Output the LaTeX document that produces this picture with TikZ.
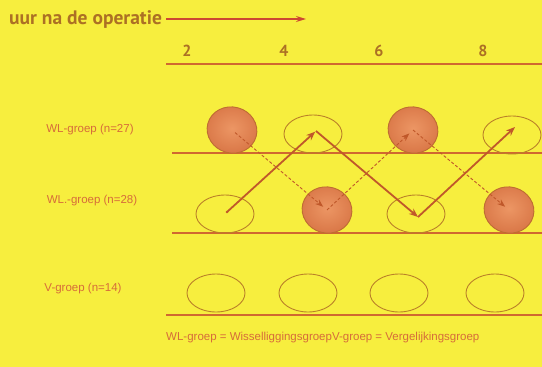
\documentclass[tikz,border=0pt]{standalone}
\usepackage{fontspec}
\setmainfont{Liberation Sans}
\newfontfamily\titlefont{PT Sans}
\usetikzlibrary{shapes.geometric,arrows.meta}
\definecolor{bgyellow}{RGB}{247,238,62}
\definecolor{titlebrown}{RGB}{172,112,36}
\definecolor{labelred}{RGB}{214,108,58}
\definecolor{rulecol}{RGB}{208,104,48}
\definecolor{ringcol}{RGB}{186,128,40}
\definecolor{arrowcol}{RGB}{192,88,42}
\definecolor{redarrow}{RGB}{205,72,50}
\definecolor{fillin}{RGB}{236,150,100}
\definecolor{fillout}{RGB}{218,120,72}
\definecolor{filledge}{RGB}{190,108,50}
\tikzset{
  px/.style={x=1pt,y=-1pt},
  groupname/.style={font=\fontsize{11.5}{13}\selectfont, text=labelred, inner sep=0pt},
  hour/.style={font=\titlefont\bfseries\fontsize{16}{18}\selectfont, text=titlebrown, inner sep=0pt},
  openring/.style={ellipse, draw=ringcol, line width=0.9pt, minimum width=58pt, minimum height=38pt, inner sep=0pt},
  fullring/.style={ellipse, draw=filledge, line width=0.9pt, shading=radial, inner color=fillin, outer color=fillout, minimum width=50pt, minimum height=46pt, inner sep=0pt},
  baseline rule/.style={draw=rulecol, line width=1.4pt},
  solidpath/.style={draw=arrowcol, line width=1.8pt, -{Stealth[length=9pt,width=7pt]}},
  dashpath/.style={draw=arrowcol, line width=0.9pt, dash pattern=on 3pt off 2pt, -{Stealth[length=8pt,width=6pt]}},
}
\begin{document}
\begin{tikzpicture}[px]
  % page and background
  \fill[bgyellow] (0,0) rectangle (542,367);
  \useasboundingbox (0,0) rectangle (542,367);

  % time axis
  \node[font=\titlefont\bfseries\fontsize{19.5}{22}\selectfont, text=titlebrown, anchor=west, inner sep=0pt] (title) at (9,20) {uur na de operatie};
  \coordinate (axisstart) at (166,19);
  \coordinate (axisend) at (306,19);
  \draw[draw=redarrow, line width=1.4pt, -{Stealth[length=10pt,width=6pt]}] (axisstart) -- (axisend);
  \node[hour] (h2) at (187,51) {2};
  \node[hour] (h4) at (284,51) {4};
  \node[hour] (h6) at (379,51) {6};
  \node[hour] (h8) at (483,51) {8};
  \draw[baseline rule] (166,64) -- (542,64);

  % group labels
  \node[groupname] (g1) at (90,130) {WL-groep (n=27)};
  \node[groupname] (g2) at (92,201) {WL.-groep (n=28)};
  \node[groupname] (g3) at (83,289) {V-groep (n=14)};

  % baselines of the three rows
  \draw[baseline rule] (172,153) -- (542,153);
  \draw[baseline rule] (172,233) -- (542,233);
  \draw[baseline rule] (166,315) -- (542,315);

  % row 1
  \node[fullring, rotate=-15] (r1a) at (232,130) {};
  \node[openring] (r1b) at (313,134) {};
  \node[fullring, rotate=-15] (r1c) at (413,130) {};
  \node[openring] (r1d) at (512,135) {};
  % row 2
  \node[openring] (r2a) at (225,214) {};
  \node[fullring, rotate=-15] (r2b) at (327,210) {};
  \node[openring] (r2c) at (416,214) {};
  \node[fullring, rotate=-15] (r2d) at (509,210) {};
  % row 3
  \node[openring] (r3a) at (216,293) {};
  \node[openring] (r3b) at (308,293) {};
  \node[openring] (r3c) at (399,293) {};
  \node[openring] (r3d) at (495,293) {};

  % crossover path of the first group (dashed)
  \draw[dashpath, shorten <=4pt, shorten >=5pt] (r1a.center) -- (r2b.center);
  \draw[dashpath, shorten >=5pt] (r2b.center) -- (r1c.center);
  \draw[dashpath, shorten >=5pt] (r1c.center) -- (r2d.center);

  % crossover path of the second group (solid)
  \fill[arrowcol] (r2a.center) ++(2,-2) circle (1.3pt);
  \draw[solidpath, shorten >=1pt] ([shift={(2,-2)}]r2a.center) -- ([shift={(3,-3)}]r1b.center);
  \draw[solidpath] ([shift={(3,-3)}]r1b.center) -- ([shift={(2,3)}]r2c.center);
  \draw[solidpath] ([shift={(2,3)}]r2c.center) -- ([shift={(3,-8)}]r1d.center);

  % legend
  \node[groupname, anchor=west] (legend) at (166,338) {WL-groep = WisselliggingsgroepV-groep = Vergelijkingsgroep};
\end{tikzpicture}
\end{document}
